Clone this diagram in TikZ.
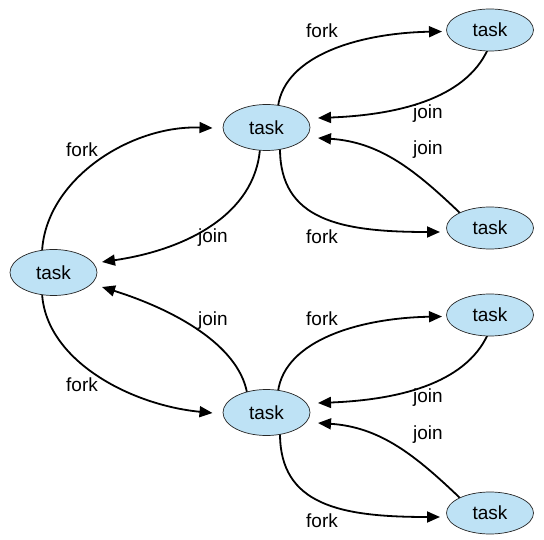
\documentclass[tikz,border=0pt]{standalone}
\usepackage{fontspec}
\setmainfont{Liberation Sans}
\usetikzlibrary{arrows.meta,shapes.geometric,backgrounds}
\definecolor{taskfill}{RGB}{190,226,245}
\begin{document}
\begin{tikzpicture}[x=1pt,y=-1pt,
  task/.style={ellipse,draw=black!85,line width=0.7pt,fill=taskfill,inner sep=0pt,
    minimum width=87pt,minimum height=46pt,font=\fontsize{19}{21}\selectfont},
  rtask/.style={task,minimum height=42pt},
  conn/.style={line width=1.8pt,-{Triangle[length=13pt,width=11pt]}},
  lbl/.style={inner sep=0pt,font=\fontsize{19}{21}\selectfont}]
\useasboundingbox (0,0) rectangle (544,540);
% nodes
\node[task] (L) at (53.5,272.5) {task};
\node[task] (M1) at (266.5,127.5) {task};
\node[task] (M2) at (266.5,412.5) {task};
\node[rtask] (R1) at (490,30) {task};
\node[rtask] (R2) at (490,228) {task};
\node[rtask] (R3) at (490,315) {task};
\node[rtask] (R4) at (490,513) {task};
% connectors
\begin{scope}[on background layer]
\draw[conn] ([shift={(-11.5,-20)}]L.center) .. controls (45,180) and (130,125) .. ([shift={(-54,0.5)}]M1.center);
\draw[conn] ([shift={(-6.5,21)}]M1.center) .. controls (255,215) and (185,250) .. ([shift={(48.5,-10.5)}]L.center);
\draw[conn] ([shift={(-19.5,-20)}]M2.center) .. controls (238,345) and (175,310) .. ([shift={(48.5,14.5)}]L.center);
\draw[conn] ([shift={(-11.5,20)}]L.center) .. controls (45,360) and (130,405) .. ([shift={(-54,0.5)}]M2.center);
% top group
\draw[conn] ([shift={(11.5,-21)}]M1.center) .. controls (285,55) and (360,33) .. ([shift={(-48,1.5)}]R1.center);
\draw[conn] ([shift={(-2,19)}]R1.center) .. controls (465,100) and (395,115) .. ([shift={(51.5,-9.5)}]M1.center);
\draw[conn] ([shift={(-30,-15)}]R2.center) .. controls (415,170) and (380,142) .. ([shift={(51.5,10.5)}]M1.center);
\draw[conn] ([shift={(13.5,21)}]M1.center) .. controls (280,220) and (340,232) .. ([shift={(-50,4)}]R2.center);
% bottom group
\draw[conn] ([shift={(11.5,-21)}]M2.center) .. controls (285,340) and (360,318) .. ([shift={(-48,1.5)}]R3.center);
\draw[conn] ([shift={(-2,19)}]R3.center) .. controls (465,385) and (395,400) .. ([shift={(51.5,-9.5)}]M2.center);
\draw[conn] ([shift={(-30,-15)}]R4.center) .. controls (415,455) and (380,427) .. ([shift={(51.5,10.5)}]M2.center);
\draw[conn] ([shift={(13.5,21)}]M2.center) .. controls (280,505) and (340,517) .. ([shift={(-50,4)}]R4.center);
\end{scope}
% labels
\node[lbl] (l1) at (82,150) {fork};
\node[lbl] (l2) at (213,238) {join};
\node[lbl] (l3) at (213,321) {join};
\node[lbl] (l4) at (82,385) {fork};
\node[lbl] (l5) at (322,31) {fork};
\node[lbl] (l6) at (428,114) {join};
\node[lbl] (l7) at (428,150) {join};
\node[lbl] (l8) at (322,237) {fork};
\node[lbl] (l9) at (322,319) {fork};
\node[lbl] (l10) at (428,398) {join};
\node[lbl] (l11) at (428,435) {join};
\node[lbl] (l12) at (322,521) {fork};
\end{tikzpicture}
\end{document}
